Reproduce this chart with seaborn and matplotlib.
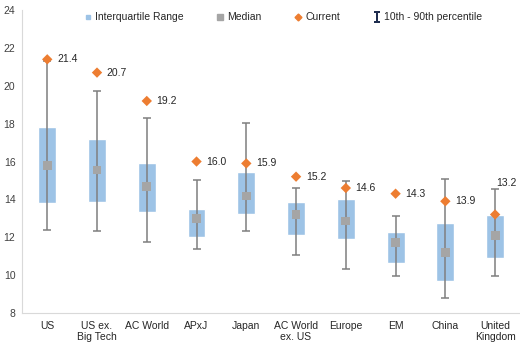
import numpy as np
import pandas as pd
import seaborn as sns
import matplotlib.pyplot as plt
from matplotlib.lines import Line2D

# values
regions = ["US", "US ex.\nBig Tech", "AC World", "APxJ", "Japan", "AC World\nex. US",
           "Europe", "EM", "China", "United\nKingdom"]
p10 = [12.38, 12.33, 11.75, 11.36, 12.33, 11.08, 10.33, 9.97, 8.81, 9.97]
q1 = [13.79, 13.85, 13.32, 12.03, 13.25, 12.12, 11.89, 10.63, 9.69, 10.92]
median = [15.78, 15.55, 14.67, 12.97, 14.18, 13.18, 12.86, 11.73, 11.21, 12.08]
q3 = [17.84, 17.19, 15.90, 13.51, 15.46, 13.88, 14.02, 12.26, 12.74, 13.18]
p90 = [21.3, 19.74, 18.28, 15.02, 18.02, 14.62, 14.99, 13.14, 15.06, 14.55]
current = [21.4, 20.7, 19.2, 16.0, 15.9, 15.2, 14.6, 14.3, 13.9, 13.2]

df = pd.DataFrame({"region": regions, "p10": p10, "q1": q1, "median": median,
                   "q3": q3, "p90": p90, "current": current})

sns.set_style("white")
plt.rcParams["font.family"] = ["Liberation Sans", "DejaVu Sans"]

BLUE = "#9DC3E6"
GREY = "#A5A5A5"
ORANGE = "#ED7D31"
WHISK = "#7F7F7F"

fig = plt.figure(figsize=(5.2, 3.5), dpi=100)
ax = fig.add_axes([0.043, 0.106, 0.957, 0.865])

x = np.arange(len(df))

# interquartile boxes
ax.bar(x, df["q3"] - df["q1"], bottom=df["q1"], width=0.36, color=BLUE, zorder=1)

# 10th - 90th percentile whiskers
ax.errorbar(x, (df["p10"] + df["p90"]) / 2, yerr=(df["p90"] - df["p10"]) / 2,
            fmt="none", ecolor=WHISK, elinewidth=1.1, capsize=3, capthick=1.1, zorder=2)

sns.scatterplot(x=x, y=df["median"], marker="s", s=40, color=GREY, edgecolor="none",
                ax=ax, zorder=3, legend=False)
sns.scatterplot(x=x, y=df["current"], marker="D", s=28, color=ORANGE, edgecolor="none",
                ax=ax, zorder=4, legend=False)

# labels for the current value (last one sits above its whisker)
for i, v in enumerate(df["current"]):
    dx, dy = 7, 0
    if i == len(df) - 1:
        dx, dy = 1, 23
    ax.annotate(f"{v:.1f}", (x[i], v), xytext=(dx, dy), textcoords="offset points",
                ha="left", va="center", fontsize=7.5, color="#262626")

ax.set_xlim(-0.5, len(df) - 0.5)
ax.set_ylim(8, 24)
ax.set_yticks(range(8, 25, 2))
ax.set_xticks(x)
ax.set_xticklabels(df["region"], fontsize=7.5, color="#262626", linespacing=1.1)
ax.set_xticks(np.arange(0.5, len(df) - 1, 1), minor=True)
ax.tick_params(axis="x", which="major", length=0, pad=6)
ax.tick_params(axis="x", which="minor", length=4, color="#D9D9D9", direction="out")
ax.tick_params(axis="y", length=3, color="#D9D9D9", labelsize=7.5, labelcolor="#404040", pad=2)
ax.set_xlabel("")
ax.set_ylabel("")

for s in ["top", "right"]:
    ax.spines[s].set_visible(False)
for s in ["left", "bottom"]:
    ax.spines[s].set_color("#D9D9D9")
    ax.spines[s].set_linewidth(0.8)

handles = [
    Line2D([], [], marker="s", color=BLUE, linestyle="none", markersize=3),
    Line2D([], [], marker="s", color=GREY, linestyle="none", markersize=5),
    Line2D([], [], marker="D", color=ORANGE, linestyle="none", markersize=3.5),
    Line2D([], [], marker=r"$\mathtt{I}$", color="#1F2D4F", linestyle="none",
           markersize=8, markeredgewidth=0),
]
labels = ["Interquartile Range", "Median", "Current", "10th - 90th percentile"]
fig.legend(handles, labels, loc="center", bbox_to_anchor=(0.545, 0.951), ncol=4,
           frameon=False, fontsize=7.5, handlelength=0.6, handletextpad=0.4,
           columnspacing=3.2, labelcolor="#262626")

fig.savefig("out.png", dpi=100)
